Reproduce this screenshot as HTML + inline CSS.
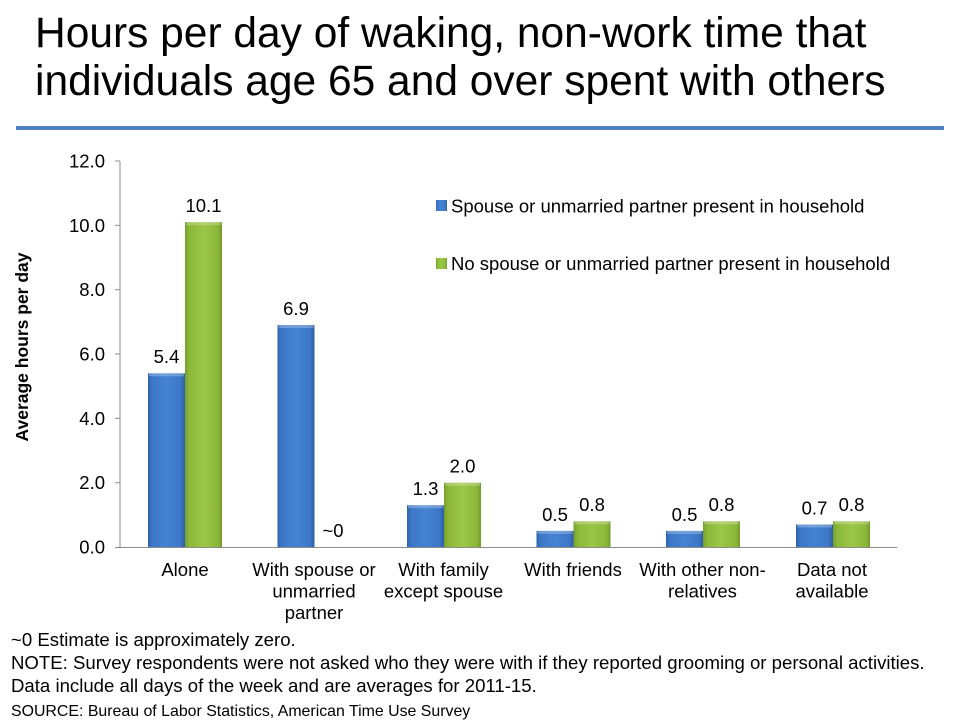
<!DOCTYPE html>
<html><head><meta charset="utf-8"><style>
html,body{margin:0;padding:0;background:#fff;}
svg{display:block;font-family:"Liberation Sans",Arial,sans-serif;}
</style></head><body>
<svg width="960" height="720" viewBox="0 0 960 720" xmlns="http://www.w3.org/2000/svg">
<defs>
<linearGradient id="gb" x1="0" y1="0" x2="1" y2="0">
<stop offset="0" stop-color="#2f64ad"/><stop offset="0.12" stop-color="#3d77c6"/><stop offset="0.5" stop-color="#4483d3"/><stop offset="0.88" stop-color="#3d77c6"/><stop offset="1" stop-color="#2d5ea4"/>
</linearGradient>
<linearGradient id="gg" x1="0" y1="0" x2="1" y2="0">
<stop offset="0" stop-color="#76a02c"/><stop offset="0.12" stop-color="#8cb83a"/><stop offset="0.5" stop-color="#9bc646"/><stop offset="0.88" stop-color="#8cb83a"/><stop offset="1" stop-color="#739b2b"/>
</linearGradient>
</defs>
<text x="35" y="47" font-size="42.5" fill="#000">Hours per day of waking, non-work time that</text>
<text x="35" y="95" font-size="42.5" fill="#000">individuals age 65 and over spent with others</text>
<rect x="16" y="126" width="928" height="4" fill="#4f81bd"/>

<!-- axes -->
<g stroke="#8c8c8c" stroke-width="1">
<line x1="120" y1="161" x2="120" y2="547.5"/>
<line x1="120" y1="547.5" x2="897" y2="547.5"/>
<line x1="115" y1="161" x2="120" y2="161"/>
<line x1="115" y1="225.3" x2="120" y2="225.3"/>
<line x1="115" y1="289.7" x2="120" y2="289.7"/>
<line x1="115" y1="354" x2="120" y2="354"/>
<line x1="115" y1="418.3" x2="120" y2="418.3"/>
<line x1="115" y1="482.7" x2="120" y2="482.7"/>
<line x1="115" y1="547.5" x2="120" y2="547.5"/>
</g>
<g font-size="18.5" fill="#000" text-anchor="end">
<text x="105" y="167.5">12.0</text>
<text x="105" y="231.8">10.0</text>
<text x="105" y="296.2">8.0</text>
<text x="105" y="360.5">6.0</text>
<text x="105" y="424.8">4.0</text>
<text x="105" y="489.2">2.0</text>
<text x="105" y="553.5">0.0</text>
</g>
<text transform="translate(28,347) rotate(-90)" font-size="17.5" font-weight="bold" text-anchor="middle" fill="#000">Average hours per day</text>

<!-- bars -->
<g>
<rect x="148" y="373.3" width="37" height="173.7" fill="url(#gb)"/>
<rect x="185" y="222.1" width="37" height="324.9" fill="url(#gg)"/>
<rect x="277.5" y="325" width="37" height="222" fill="url(#gb)"/>
<rect x="407" y="505.2" width="37" height="41.8" fill="url(#gb)"/>
<rect x="444" y="482.7" width="37" height="64.3" fill="url(#gg)"/>
<rect x="536.5" y="530.9" width="37" height="16.1" fill="url(#gb)"/>
<rect x="573.5" y="521.3" width="37" height="25.7" fill="url(#gg)"/>
<rect x="666" y="530.9" width="37" height="16.1" fill="url(#gb)"/>
<rect x="703" y="521.3" width="37" height="25.7" fill="url(#gg)"/>
<rect x="796" y="524.5" width="37" height="22.5" fill="url(#gb)"/>
<rect x="833" y="521.3" width="37" height="25.7" fill="url(#gg)"/>
</g>
<g fill="#ffffff" opacity="0.25">
<rect x="149" y="373.3" width="35" height="3"/>
<rect x="186" y="222.1" width="35" height="3"/>
<rect x="278.5" y="325" width="35" height="3"/>
<rect x="408" y="505.2" width="35" height="3"/>
<rect x="445" y="482.7" width="35" height="3"/>
<rect x="537.5" y="530.9" width="35" height="3"/>
<rect x="574.5" y="521.3" width="35" height="3"/>
<rect x="667" y="530.9" width="35" height="3"/>
<rect x="704" y="521.3" width="35" height="3"/>
<rect x="797" y="524.5" width="35" height="3"/>
<rect x="834" y="521.3" width="35" height="3"/>
</g>

<!-- value labels -->
<g font-size="18.5" fill="#000" text-anchor="middle">
<text x="166.5" y="363">5.4</text>
<text x="203.5" y="212">10.1</text>
<text x="296" y="315">6.9</text>
<text x="333" y="537">~0</text>
<text x="425.5" y="495">1.3</text>
<text x="462.5" y="472.5">2.0</text>
<text x="555" y="521">0.5</text>
<text x="592" y="511">0.8</text>
<text x="684.5" y="521">0.5</text>
<text x="721.5" y="511">0.8</text>
<text x="814.5" y="514.5">0.7</text>
<text x="851.5" y="511">0.8</text>
</g>

<!-- x labels -->
<g font-size="18.5" fill="#000" text-anchor="middle">
<text x="185" y="576">Alone</text>
<text x="314" y="576">With spouse or</text>
<text x="314" y="597.5">unmarried</text>
<text x="314" y="619">partner</text>
<text x="443.5" y="576">With family</text>
<text x="443.5" y="597.5">except spouse</text>
<text x="573" y="576">With friends</text>
<text x="702.5" y="576">With other non-</text>
<text x="702.5" y="597.5">relatives</text>
<text x="832" y="576">Data not</text>
<text x="832" y="597.5">available</text>
</g>

<!-- legend -->
<rect x="436" y="200" width="11" height="11" fill="url(#gb)"/>
<text x="451" y="212.5" font-size="18.5" fill="#000">Spouse or unmarried partner present in household</text>
<rect x="436" y="258" width="11" height="11" fill="url(#gg)"/>
<text x="451" y="270" font-size="18.5" fill="#000">No spouse or unmarried partner present in household</text>

<!-- footnotes -->
<g fill="#000">
<text x="11" y="646" font-size="18.6">~0 Estimate is approximately zero.</text>
<text x="11" y="669" font-size="18.6">NOTE: Survey respondents were not asked who they were with if they reported grooming or personal activities.</text>
<text x="11" y="692" font-size="18.6">Data include all days of the week and are averages for 2011-15.</text>
<text x="11" y="716" font-size="15.9">SOURCE: Bureau of Labor Statistics, American Time Use Survey</text>
</g>
</svg>
</body></html>
